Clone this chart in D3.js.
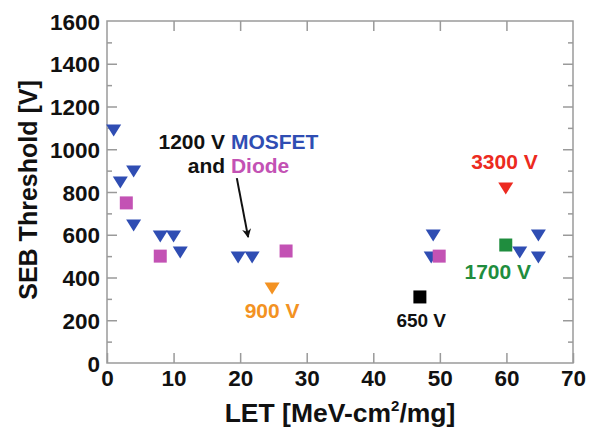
<!DOCTYPE html>
<html>
<head>
<meta charset="utf-8">
<script src="https://cdn.jsdelivr.net/npm/d3@7"></script>
<style>
  html, body { margin: 0; padding: 0; background: #fff; }
  svg { display: block; font-family: "Liberation Sans", Arial, Helvetica, sans-serif; }
</style>
</head>
<body>
<svg id="chart" width="592" height="428"></svg>
<script>
// ---- data ----
const xTicks = [0, 10, 20, 30, 40, 50, 60, 70];
const yTicks = [0, 200, 400, 600, 800, 1000, 1200, 1400, 1600];
const yMinorTicks = [100, 300, 500, 700, 900, 1100, 1300, 1500];

// 1200 V MOSFET (blue triangles)
const mosfetLET = [1, 2, 4, 4, 8, 10, 11, 19.7, 21.8, 49, 48.7, 62, 64.8, 64.8];
const mosfetSEB = [1090, 847, 898, 646, 594, 594, 519, 496, 496, 599, 496, 519, 599, 496];
// 1200 V Diode (pink squares)
const diodeLET = [2.9, 8, 26.9, 49.9];
const diodeSEB = [749, 500, 524, 500];
// other ratings
const v900LET = [24.8],  v900SEB = [351];
const v3300LET = [59.9], v3300SEB = [819];
const v1700LET = [59.9], v1700SEB = [552];
const v650LET = [47],    v650SEB = [309];

const colors = {
  mosfet: "#2f4db3",
  diode: "#c352b4",
  v900: "#f39222",
  v3300: "#ec2a20",
  v1700: "#1f8d3e",
  v650: "#000000"
};

// annotations: [text parts], anchor in data coords (centre x, baseline y)
const labels = [
  { parts: [["1200 V ", "#111"], ["MOSFET", colors.mosfet]], x: 19.75, y: 1001, size: 21 },
  { parts: [["and ", "#111"], ["Diode", colors.diode]], x: 19.75, y: 889, size: 21 },
  { parts: [["900 V", colors.v900]], x: 24.8, y: 210, size: 21 },
  { parts: [["3300 V", colors.v3300]], x: 59.7, y: 908, size: 21 },
  { parts: [["1700 V", colors.v1700]], x: 58.7, y: 393, size: 21 },
  { parts: [["650 V", "#111"]], x: 47.2, y: 168, size: 19 }
];
const arrowFrom = [19.5, 865], arrowTo = [21.2, 589];

// ---- layout ----
const svg = d3.select("#chart");
const m = { left: 107, right: 573, top: 21, bottom: 363 };
const x = d3.scaleLinear().domain([0, 70]).range([m.left, m.right]);
const y = d3.scaleLinear().domain([0, 1600]).range([m.bottom, m.top]);
const frameColor = "#9a9a9a";

// frame
svg.append("rect")
  .attr("x", m.left).attr("y", m.top)
  .attr("width", m.right - m.left).attr("height", m.bottom - m.top)
  .attr("fill", "none").attr("stroke", frameColor).attr("stroke-width", 1.5);

// axes (inward ticks)
function styleAxis(g) {
  g.select(".domain").remove();
  g.selectAll(".tick line").attr("stroke", frameColor).attr("stroke-width", 1.5);
}
const bottomAxis = svg.append("g").attr("transform", `translate(0,${m.bottom})`)
  .call(d3.axisBottom(x).tickValues(xTicks).tickSizeInner(-10).tickSizeOuter(0).tickFormat(d3.format("d")));
styleAxis(bottomAxis);
bottomAxis.selectAll(".tick text")
  .attr("font-size", 22.5).attr("font-weight", "bold").attr("fill", "#111")
  .attr("font-family", "'Liberation Sans', Arial, sans-serif")
  .attr("y", 23).attr("dy", 0);

const topAxis = svg.append("g").attr("transform", `translate(0,${m.top})`)
  .call(d3.axisTop(x).tickValues(xTicks.slice(1, -1)).tickSizeInner(-10).tickSizeOuter(0).tickFormat(""));
styleAxis(topAxis);

const leftAxis = svg.append("g").attr("transform", `translate(${m.left},0)`)
  .call(d3.axisLeft(y).tickValues(yTicks).tickSizeInner(-10).tickSizeOuter(0).tickFormat(d3.format("d")));
styleAxis(leftAxis);
leftAxis.selectAll(".tick text")
  .attr("font-size", 22.5).attr("font-weight", "bold").attr("fill", "#111")
  .attr("font-family", "'Liberation Sans', Arial, sans-serif")
  .attr("x", -7).attr("dy", "0.36em");
leftAxis.selectAll(".tick line").filter(d => d === 0 || d === 1600).remove();

const leftMinor = svg.append("g").attr("transform", `translate(${m.left},0)`)
  .call(d3.axisLeft(y).tickValues(yMinorTicks).tickSizeInner(-5).tickSizeOuter(0).tickFormat(""));
styleAxis(leftMinor);

const rightAxis = svg.append("g").attr("transform", `translate(${m.right},0)`)
  .call(d3.axisRight(y).tickValues(yTicks.slice(1, -1)).tickSizeInner(-10).tickSizeOuter(0).tickFormat(""));
styleAxis(rightAxis);
const rightMinor = svg.append("g").attr("transform", `translate(${m.right},0)`)
  .call(d3.axisRight(y).tickValues(yMinorTicks).tickSizeInner(-5).tickSizeOuter(0).tickFormat(""));
styleAxis(rightMinor);

// axis titles
const xt = svg.append("text")
  .attr("x", (m.left + m.right) / 2).attr("y", 422)
  .attr("text-anchor", "middle").attr("font-size", 26.5).attr("font-weight", "bold").attr("fill", "#111");
xt.append("tspan").text("LET [MeV-cm");
xt.append("tspan").text("2").attr("font-size", 15).attr("dy", -11);
xt.append("tspan").text("/mg]").attr("dy", 11);

svg.append("text")
  .attr("transform", `translate(37,190) rotate(-90)`)
  .attr("text-anchor", "middle").attr("font-size", 25).attr("font-weight", "bold").attr("fill", "#111")
  .text("SEB Threshold [V]");

// markers
const tri = "M-7.5,-5.5L7.5,-5.5L0,6.5Z";
const sq = "M-6.5,-6.5H6.5V6.5H-6.5Z";
function plot(xs, ys, path, color) {
  svg.append("g").selectAll("path")
    .data(xs.map((v, i) => [v, ys[i]]))
    .join("path")
    .attr("transform", d => `translate(${x(d[0])},${y(d[1])})`)
    .attr("d", path).attr("fill", color);
}
plot(v1700LET, v1700SEB, sq, colors.v1700);
plot(mosfetLET, mosfetSEB, tri, colors.mosfet);
plot(diodeLET, diodeSEB, sq, colors.diode);
plot(v900LET, v900SEB, tri, colors.v900);
plot(v3300LET, v3300SEB, tri, colors.v3300);
plot(v650LET, v650SEB, sq, colors.v650);

// annotations
labels.forEach(l => {
  const t = svg.append("text")
    .attr("x", x(l.x)).attr("y", y(l.y))
    .attr("text-anchor", "middle").attr("font-size", l.size).attr("font-weight", "bold");
  l.parts.forEach(p => t.append("tspan").text(p[0]).attr("fill", p[1]));
});

// arrow
const defs = svg.append("defs");
defs.append("marker").attr("id", "ah").attr("viewBox", "0 0 10 10")
  .attr("refX", 9).attr("refY", 5).attr("markerWidth", 9).attr("markerHeight", 9)
  .attr("markerUnits", "userSpaceOnUse").attr("orient", "auto")
  .append("path").attr("d", "M0,0L10,5L0,10L3,5Z").attr("fill", "#111");
svg.append("line")
  .attr("x1", x(arrowFrom[0])).attr("y1", y(arrowFrom[1]))
  .attr("x2", x(arrowTo[0])).attr("y2", y(arrowTo[1]))
  .attr("stroke", "#111").attr("stroke-width", 2).attr("marker-end", "url(#ah)");
</script>
</body>
</html>
